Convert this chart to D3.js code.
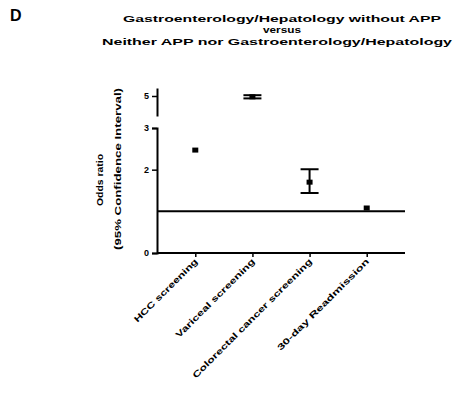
<!DOCTYPE html>
<html>
<head>
<meta charset="utf-8">
<script src="https://cdn.jsdelivr.net/npm/d3@7"></script>
<style>
  body { margin: 0; background: #fff; }
  svg { font-family: 'Liberation Sans', Arial, sans-serif; }
</style>
</head>
<body>
<svg id="chart" width="455" height="394"></svg>
<script>
const titleLines = ['Gastroenterology/Hepatology without APP', 'versus', 'Neither APP nor Gastroenterology/Hepatology']
const categories = ['HCC screening', 'Variceal screening', 'Colorectal cancer screening', '30-day Readmission']
const oddsRatio = [2.47, 4.98, 1.70, 1.08]
const ciLow = [2.47, 4.94, 1.44, 1.08]
const ciHigh = [2.47, 5.02, 2.01, 1.08]
const lowerTicks = [0, 2, 3]
const upperTicks = [5]
const refValue = 1

const svg = d3.select('#chart')

// panel letter
svg.append('text').attr('x', 10).attr('y', 21).attr('font-size', 16).attr('font-weight', 'bold').text('D')

// title
const titleY = [22, 33, 45]
const titleW = [318, 38, 350]
svg.append('g')
  .selectAll('text')
  .data(titleLines)
  .join('text')
  .attr('x', (d, i) => (i === 2 ? 277 : 282))
  .attr('y', (d, i) => titleY[i])
  .attr('text-anchor', 'middle')
  .attr('font-size', 9.5)
  .attr('font-weight', 'bold')
  .attr('textLength', (d, i) => titleW[i])
  .attr('lengthAdjust', 'spacingAndGlyphs')
  .text((d) => d)

const x0 = 157
const x1 = 405
const x = d3.scalePoint().domain(categories).range([x0, x1]).padding(0.67)
const yLow = d3.scaleLinear().domain([0, 3]).range([253, 128])
const yUp = d3.scaleLinear().domain([4.5, 5.2]).range([116, 88])
const yOf = (v) => (v > 3 ? yUp(v) : yLow(v))

const axisStyle = (g) => {
  g.select('.domain').attr('stroke-width', 2)
  g.selectAll('.tick line').attr('stroke-width', 1.5)
  g.selectAll('.tick text').attr('font-size', 9).attr('font-weight', 'bold')
}

// y axes (broken)
svg.append('g')
  .attr('transform', `translate(${x0},0)`)
  .call(d3.axisLeft(yLow).tickValues(lowerTicks).tickFormat(d3.format('d')).tickSize(5).tickSizeOuter(5).tickPadding(3))
  .call(axisStyle)
svg.append('g')
  .attr('transform', `translate(${x0},0)`)
  .call(d3.axisLeft(yUp).tickValues(upperTicks).tickFormat(d3.format('d')).tickSize(5).tickSizeOuter(0).tickPadding(3))
  .call(axisStyle)

// x axis
svg.append('g')
  .attr('transform', `translate(0,${yLow(0)})`)
  .call(d3.axisBottom(x).tickSize(4).tickSizeOuter(0).tickFormat(''))
  .call(axisStyle)
  .call((g) => g.select('.domain').attr('d', `M${x0},0H${x1}`))

// x labels, rotated
const labelLen = [86, 108, 165, 126]
svg.append('g')
  .selectAll('text')
  .data(categories)
  .join('text')
  .attr('transform', (d) => `translate(${x(d) + 3},${yLow(0) + 9}) rotate(-45)`)
  .attr('text-anchor', 'end')
  .attr('font-size', 8.5)
  .attr('font-weight', 'bold')
  .attr('textLength', (d, i) => labelLen[i])
  .attr('lengthAdjust', 'spacingAndGlyphs')
  .text((d) => d)

// y label
const yl = svg.append('g').attr('font-size', 8.5).attr('font-weight', 'bold').attr('text-anchor', 'middle')
yl.append('text').attr('transform', 'translate(103,180) rotate(-90)').attr('textLength', 52).attr('lengthAdjust', 'spacingAndGlyphs').text('Odds ratio')
yl.append('text').attr('transform', 'translate(121,169) rotate(-90)').attr('textLength', 162).attr('lengthAdjust', 'spacingAndGlyphs').text('(95% Confidence Interval)')

// reference line at OR = 1
svg.append('line')
  .attr('x1', x0).attr('x2', x1)
  .attr('y1', yLow(refValue)).attr('y2', yLow(refValue))
  .attr('stroke', '#000').attr('stroke-width', 2)

// error bars + markers
const pts = categories.map((c, i) => ({ c, v: oddsRatio[i], lo: ciLow[i], hi: ciHigh[i] }))
const eb = svg.append('g').attr('stroke', '#000').attr('stroke-width', 2)
pts.filter((d) => d.hi > d.lo).forEach((d) => {
  const cx = x(d.c)
  eb.append('line').attr('x1', cx).attr('x2', cx).attr('y1', yOf(d.lo)).attr('y2', yOf(d.hi))
  eb.append('line').attr('x1', cx - 9).attr('x2', cx + 9).attr('y1', yOf(d.lo)).attr('y2', yOf(d.lo))
  eb.append('line').attr('x1', cx - 9).attr('x2', cx + 9).attr('y1', yOf(d.hi)).attr('y2', yOf(d.hi))
})
svg.append('g')
  .selectAll('rect')
  .data(pts)
  .join('rect')
  .attr('x', (d) => x(d.c) - 3)
  .attr('y', (d) => yOf(d.v) - 2.5)
  .attr('width', 6)
  .attr('height', 5)
  .attr('fill', '#000')
</script>
</body>
</html>
